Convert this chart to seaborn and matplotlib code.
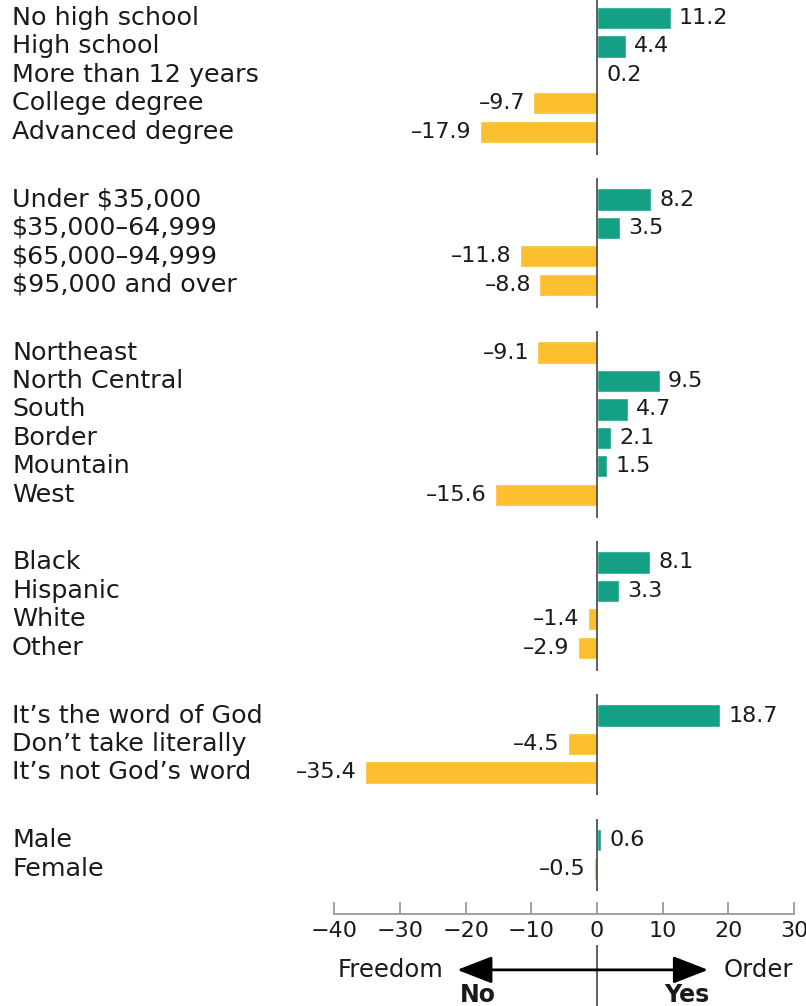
import numpy as np
import pandas as pd
import matplotlib
matplotlib.use('Agg')
import matplotlib.pyplot as plt
import seaborn as sns

sns.set_style('white')
plt.rcParams['font.family'] = ['DejaVu Sans']

# dados
educacao = ["No high school", "High school", "More than 12 years", "College degree", "Advanced degree"]
educacao_val = [11.2, 4.4, 0.2, -9.7, -17.9]
renda = ["Under $35,000", "$35,000\u201364,999", "$65,000\u201394,999", "$95,000 and over"]
renda_val = [8.2, 3.5, -11.8, -8.8]
regiao = ["Northeast", "North Central", "South", "Border", "Mountain", "West"]
regiao_val = [-9.1, 9.5, 4.7, 2.1, 1.5, -15.6]
raca = ["Black", "Hispanic", "White", "Other"]
raca_val = [8.1, 3.3, -1.4, -2.9]
biblia = ["It\u2019s the word of God", "Don\u2019t take literally", "It\u2019s not God\u2019s word"]
biblia_val = [18.7, -4.5, -35.4]
sexo = ["Male", "Female"]
sexo_val = [0.6, -0.5]

grupos = [(educacao, educacao_val), (renda, renda_val), (regiao, regiao_val),
          (raca, raca_val), (biblia, biblia_val), (sexo, sexo_val)]
x_ticks = [-40, -30, -20, -10, 0, 10, 20, 30]

verde = '#14a085'
amarelo = '#fcbf2f'
texto = '#1a1a1a'

# posicoes das linhas, com espaco entre os grupos
gap = 2.38
linhas = []
inicio = 0.0
limites = []
for nomes, vals in grupos:
    pos = [inicio + i for i in range(len(nomes))]
    limites.append((pos[0], pos[-1]))
    for n, v, p in zip(nomes, vals, pos):
        linhas.append({'label': n, 'value': v, 'pos': p, 'sinal': 'pos' if v >= 0 else 'neg'})
    inicio = pos[-1] + gap
df = pd.DataFrame(linhas)

fig = plt.figure(figsize=(8.06, 10.06), dpi=100)
ax = fig.add_axes([0, 0, 1, 1])

sns.barplot(data=df, x='value', y='pos', hue='sinal', orient='h', native_scale=True,
            palette={'pos': verde, 'neg': amarelo}, dodge=False, errorbar=None,
            width=0.78, legend=False, ax=ax, saturation=1)

ax.set_xlim(-90.9, 31.8)
ax.set_ylim(34.73, -0.633)

# rotulos de valor
for c in ax.containers:
    rot = [f"{w:.1f}".replace('-', '\u2013') for w in c.datavalues]
    ax.bar_label(c, labels=rot, padding=6, fontsize=16, color=texto)

# rotulos das categorias
for _, r in df.iterrows():
    ax.text(0.015, r['pos'], r['label'], transform=ax.get_yaxis_transform(),
            ha='left', va='center', fontsize=18.3, color=texto, parse_math=False)

# linha do zero por grupo
for a, b in limites:
    ax.vlines(0, a - 0.75, b + 0.8, color='#333333', lw=1.1, zorder=3)
ax.vlines(0, 32.58, 34.73, color='#333333', lw=1.1)

# eixo x
for s in ['left', 'right', 'top']:
    ax.spines[s].set_visible(False)
ax.spines['bottom'].set_position(('data', 31.5))
ax.spines['bottom'].set_bounds(-40, 30)
ax.spines['bottom'].set_color('#999999')
ax.spines['bottom'].set_linewidth(1.3)
ax.set_xticks(x_ticks)
ax.set_xticklabels([str(t).replace('-', '\u2212') for t in x_ticks])
ax.tick_params(axis='x', direction='in', length=9, width=1.3, color='#999999',
               labelsize=16, labelcolor=texto, pad=5, bottom=True)
ax.set_yticks([])
ax.set_xlabel('')
ax.set_ylabel('')

# seta Freedom / Order
ax.annotate('', xy=(-21.3, 33.46), xytext=(16.9, 33.46),
            arrowprops=dict(arrowstyle='<|-|>,head_length=1.08,head_width=0.42',
                            mutation_scale=20, lw=2, color='black',
                            shrinkA=0, shrinkB=0))
ax.text(-23.4, 33.46, 'Freedom', ha='right', va='center', fontsize=17.5, color=texto)
ax.text(19.2, 33.46, 'Order', ha='left', va='center', fontsize=17.5, color=texto)
ax.text(-18.1, 34.34, 'No', ha='center', va='center', fontsize=17, fontweight='bold', color=texto)
ax.text(13.7, 34.34, 'Yes', ha='center', va='center', fontsize=17, fontweight='bold', color=texto)

fig.savefig('out.png', dpi=100)
